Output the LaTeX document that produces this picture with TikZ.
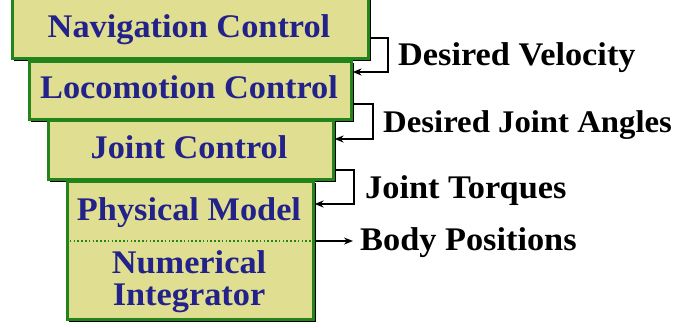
\documentclass[tikz,border=0pt]{standalone}
\usepackage{fontspec}
\setmainfont{Liberation Serif}[FakeStretch=1.04]
\usetikzlibrary{arrows.meta}
\definecolor{boxfill}{RGB}{224,223,145}
\definecolor{boxline}{RGB}{36,132,28}
\definecolor{boxtext}{RGB}{34,34,138}
\tikzset{
  layerbox/.style={draw=boxline, line width=2.6pt, fill=boxfill, inner sep=0pt, anchor=north west},
  shadowbox/.style={fill=black, draw=none},
  boxlabel/.style={text=boxtext, font=\fontsize{33}{36}\selectfont\bfseries, anchor=base, inner sep=0pt},
  sidelabel/.style={text=black, font=\fontsize{33}{36}\selectfont\bfseries, anchor=base west, inner sep=0pt},
  conn/.style={draw=black, line width=2pt, -{Stealth[length=9pt,width=7pt]}},
}
\begin{document}
\begin{tikzpicture}[x=1pt,y=-1pt]
\useasboundingbox (0,0) rectangle (685,327);
% shadows
\fill[shadowbox] (69,183) rectangle (316,322);
\fill[shadowbox] (50,122) rectangle (336,182);
\fill[shadowbox] (31,63) rectangle (354,122);
\fill[shadowbox] (14,-5) rectangle (371,61);
% boxes
\node[layerbox, minimum width=356pt, minimum height=65pt] (nav) at (11,-8) {};
\node[layerbox, minimum width=322pt, minimum height=58pt] (loco) at (28,60) {};
\node[layerbox, minimum width=285pt, minimum height=59pt] (joint) at (47,119) {};
\node[layerbox, minimum width=246pt, minimum height=138pt] (body) at (66,180) {};
\draw[boxline, line width=2pt, dash pattern=on 1.6pt off 2.2pt] (body.west |- 0,241) -- (body.east |- 0,241);
% box texts
\node[boxlabel] (tnav) at (189,37) {Navigation Control};
\node[boxlabel] (tloco) at (189,98) {Locomotion Control};
\node[boxlabel] (tjoint) at (189,158) {Joint Control};
\node[boxlabel] (tphys) at (189,220) {Physical Model};
\node[boxlabel] (tnum) at (189,273) {Numerical};
\node[boxlabel] (tint) at (189,305) {Integrator};
% connectors
\coordinate (c1) at (388,38);
\coordinate (c2) at (373,104);
\coordinate (c3) at (354,170);
\draw[conn] (nav.east |- c1) -- (c1) |- (loco.east |- 0,72);
\draw[conn] (loco.east |- c2) -- (c2) |- (joint.east |- 0,139);
\draw[conn] (joint.east |- c3) -- (c3) |- (body.east |- 0,204);
\coordinate (c4) at (353,241);
\draw[conn] (body.east |- c4) -- (c4);
% side labels
\node[sidelabel] (l1) at (398,65) {Desired Velocity};
\node[sidelabel, font=\fontsize{31.5}{36}\selectfont\bfseries] (l2) at (383,132) {Desired Joint Angles};
\node[sidelabel] (l3) at (365,198) {Joint Torques};
\node[sidelabel] (l4) at (360,250) {Body Positions};
\end{tikzpicture}
\end{document}
